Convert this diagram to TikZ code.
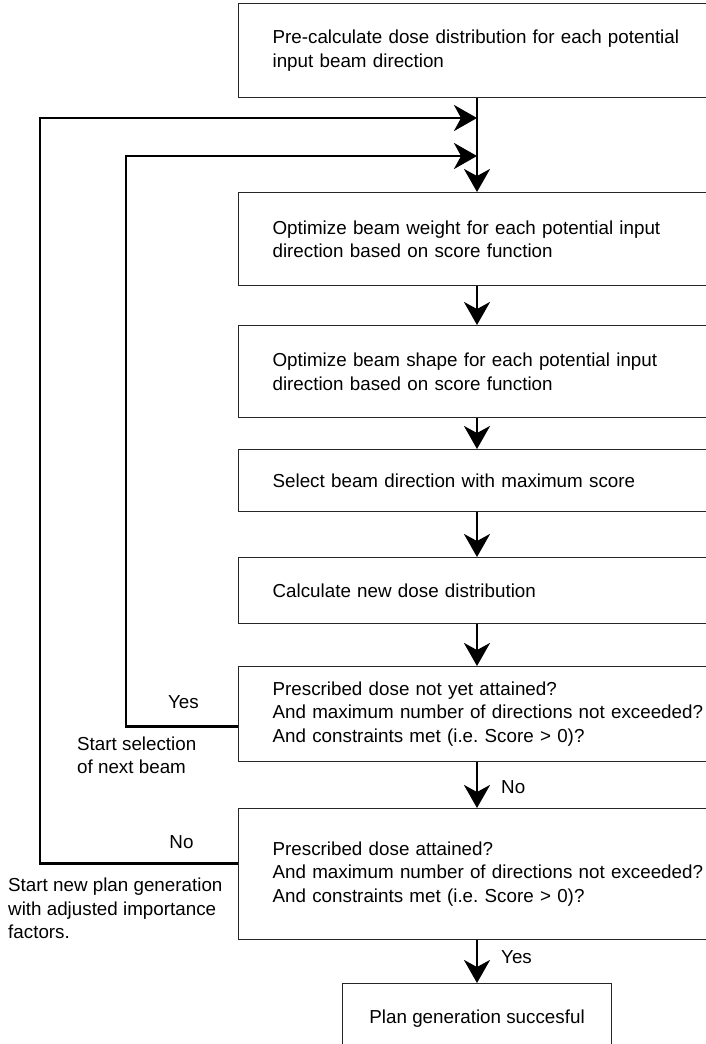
\documentclass[tikz,border=0pt]{standalone}
\usepackage{fontspec}
\setmainfont{Liberation Sans}
\frenchspacing
\usetikzlibrary{arrows.meta, positioning, calc}

\begin{document}
\begin{tikzpicture}[
    x=1pt, y=-1pt,
    every node/.style={font=\fontsize{18.8}{23.5}\selectfont},
    block/.style={rectangle, draw=black!85, line width=1.2pt, align=left, text width=440pt,
                  inner xsep=34pt, inner ysep=0pt, anchor=north west},
    endblock/.style={rectangle, draw=black!85, line width=1.2pt, align=center,
                  minimum width=269pt, minimum height=70pt, inner sep=0pt, anchor=north west},
    lbl/.style={inner sep=0pt, align=left},
    flow/.style={line width=2.6pt, -{Stealth[length=23pt, width=26pt, inset=7pt]}}
]
    \useasboundingbox (0,0) rectangle (706,1044);

    % Blocks
    \node[block, minimum height=94pt] (precalc) at (238,3) {Pre-calculate dose distribution for each potential\\input beam direction};
    \node[block, minimum height=93pt] (weight) at (238,192) {Optimize beam weight for each potential input\\direction based on score function};
    \node[block, minimum height=92pt] (shape) at (238,325) {Optimize beam shape for each potential input\\direction based on score function};
    \node[block, minimum height=62pt] (select) at (238,449) {Select beam direction with maximum score};
    \node[block, minimum height=66pt] (newdose) at (238,557) {Calculate new dose distribution};
    \node[block, minimum height=95pt] (check1) at (238,666) {Prescribed dose not yet attained?\\And maximum number of directions not exceeded?\\And constraints met (i.e. Score > 0)?};
    \node[block, minimum height=131pt] (check2) at (238,808) {Prescribed dose attained?\\And maximum number of directions not exceeded?\\And constraints met (i.e. Score > 0)?};
    \node[endblock] (success) at (342,983) {Plan generation succesful};

    % Loop points
    \coordinate (spine) at (477,0);
    \coordinate (nextbeam) at (126,156);
    \coordinate (newplan) at (40,118);

    % Arrows
    \draw[flow] (precalc.south -| spine) -- (weight.north -| spine);
    \draw[flow] (weight.south -| spine) -- (shape.north -| spine);
    \draw[flow] (shape.south -| spine) -- (select.north -| spine);
    \draw[flow] (select.south -| spine) -- (newdose.north -| spine);
    \draw[flow] (newdose.south -| spine) -- (check1.north -| spine);
    \draw[flow] (check1.south -| spine) -- (check2.north -| spine);
    \draw[flow] (check2.south -| spine) -- (success.north -| spine);

    % Feedback loops
    \draw[flow] ([yshift=-12.5pt]check1.west) -| (nextbeam) -- (nextbeam -| spine);
    \draw[flow] ([yshift=10.5pt]check2.west) -| (newplan) -- (newplan -| spine);

    % Labels
    \node[lbl] (yes1) at (183.5,702) {Yes};
    \node[lbl, anchor=west] (nextlbl) at (77,755.5) {Start selection\\of next beam};
    \node[lbl] (no1) at (181.5,842) {No};
    \node[lbl, anchor=west] (planlbl) at (8,908.5) {Start new plan generation\\with adjusted importance\\factors.};
    \node[lbl, anchor=west] (no2) at (501,787) {No};
    \node[lbl, anchor=west] (yes2) at (501,957) {Yes};
\end{tikzpicture}
\end{document}
